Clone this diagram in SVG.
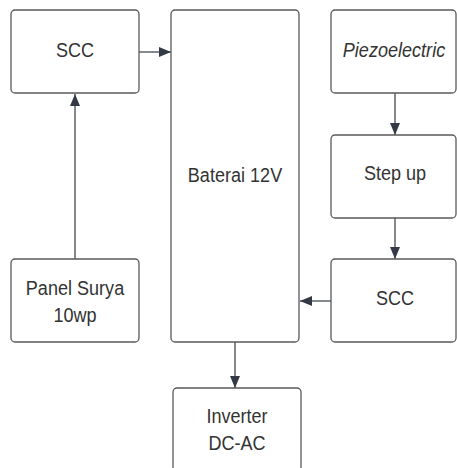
<svg xmlns="http://www.w3.org/2000/svg" width="457" height="468" viewBox="0 0 457 468">
<defs>
<marker id="ah" viewBox="0 0 12 10" refX="12" refY="5" markerWidth="12" markerHeight="10" markerUnits="userSpaceOnUse" orient="auto">
<path d="M0,0 L12,5 L0,10 z" fill="#333a45"/>
</marker>
<style>
.box{fill:#ffffff;stroke:#5a5a5a;stroke-width:1.3}
.t{font-family:"Liberation Sans",Arial,sans-serif;font-size:21px;fill:#333333;text-anchor:middle}
.it{font-style:italic}
.c{stroke:#333a45;stroke-width:1.2;fill:none;marker-end:url(#ah)}
</style>
</defs>
<rect width="457" height="468" fill="#ffffff"/>
<g id="connectors">
<line class="c" x1="139" y1="52" x2="171" y2="52"/>
<line class="c" x1="75" y1="259" x2="75" y2="94"/>
<line class="c" x1="395" y1="93" x2="395" y2="135"/>
<line class="c" x1="395" y1="218" x2="395" y2="259"/>
<line class="c" x1="331" y1="301" x2="300" y2="301"/>
<line class="c" x1="235" y1="342" x2="235" y2="388"/>
</g>
<g id="scc-left">
<rect class="box" x="11" y="10" width="128" height="83" rx="4"/>
<text class="t" transform="translate(75,57) scale(0.86,1)">SCC</text>
</g>
<g id="baterai">
<rect class="box" x="171" y="10" width="128" height="332" rx="4"/>
<text class="t" transform="translate(235,182) scale(0.86,1)">Baterai 12V</text>
</g>
<g id="piezo">
<rect class="box" x="331" y="10" width="125" height="83" rx="4"/>
<text class="t it" transform="translate(394,57) scale(0.86,1)">Piezoelectric</text>
</g>
<g id="stepup">
<rect class="box" x="331" y="135" width="125" height="83" rx="4"/>
<text class="t" transform="translate(395,180) scale(0.86,1)">Step up</text>
</g>
<g id="scc-right">
<rect class="box" x="331" y="259" width="125" height="83" rx="4"/>
<text class="t" transform="translate(395,305) scale(0.86,1)">SCC</text>
</g>
<g id="panel">
<rect class="box" x="11" y="259" width="128" height="83" rx="4"/>
<text class="t" transform="translate(75,295) scale(0.86,1)">Panel Surya</text>
<text class="t" transform="translate(75,322) scale(0.86,1)">10wp</text>
</g>
<g id="inverter">
<rect class="box" x="173" y="388" width="128" height="83" rx="4"/>
<text class="t" transform="translate(237,423) scale(0.86,1)">Inverter</text>
<text class="t" transform="translate(237,450) scale(0.86,1)">DC-AC</text>
</g>
</svg>
